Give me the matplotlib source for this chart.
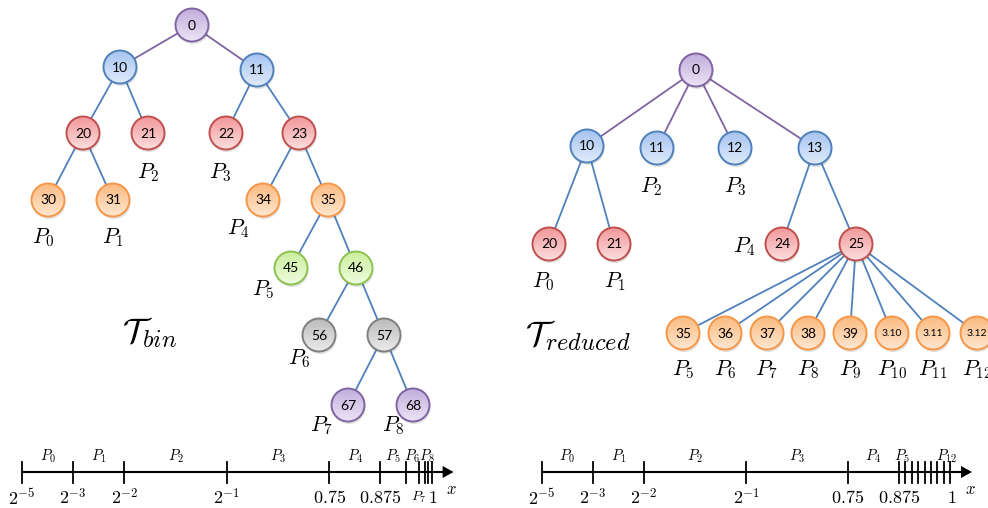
import numpy as np
import matplotlib
matplotlib.use('Agg')
import matplotlib.pyplot as plt
from matplotlib.patches import Circle
from matplotlib.colors import to_rgb

plt.rcParams['mathtext.fontset'] = 'cm'

# ---- left tree (binary) ----
bin_nodes = ['0', '10', '11', '20', '21', '22', '23', '30', '31', '34', '35',
             '45', '46', '56', '57', '67', '68']
bin_parents = [None, '0', '0', '10', '10', '11', '11', '20', '20', '23', '23',
               '35', '35', '46', '46', '57', '57']
bin_kinds = ['purple', 'blue', 'blue', 'red', 'red', 'red', 'red', 'orange',
             'orange', 'orange', 'orange', 'green', 'green', 'grey', 'grey',
             'purple', 'purple']
bin_leaves = ['30', '31', '21', '22', '34', '45', '56', '67', '68']

# ---- right tree (reduced) ----
red_nodes = ['0', '10', '11', '12', '13', '20', '21', '24', '25', '35', '36',
             '37', '38', '39', '3.10', '3.11', '3.12']
red_parents = [None, '0', '0', '0', '0', '10', '10', '13', '13', '25', '25',
               '25', '25', '25', '25', '25', '25']
red_kinds = ['purple', 'blue', 'blue', 'blue', 'blue', 'red', 'red', 'red',
             'red', 'orange', 'orange', 'orange', 'orange', 'orange', 'orange',
             'orange', 'orange']
red_leaves = ['20', '21', '11', '12', '24', '35', '36', '37', '38', '39',
              '3.10', '3.11', '3.12']

# ---- number lines ----
bin_bounds = [2**-5, 2**-3, 2**-2, 0.5, 0.75, 0.875, 0.9375, 0.96875,
              0.984375, 0.9921875, 1.0]
red_bounds = [2**-5, 2**-3, 2**-2, 0.5, 0.75] + [0.875 + k / 64 for k in range(9)]
tick_values = [2**-5, 2**-3, 2**-2, 0.5, 0.75, 0.875, 1.0]
tick_texts = [r'$2^{-5}$', r'$2^{-3}$', r'$2^{-2}$', r'$2^{-1}$', r'$0.75$',
              r'$0.875$', r'$1$']

# layout (pixel coordinates)
bin_pos = {'0': (192, 25), '10': (120, 67), '11': (257, 70),
           '20': (83, 133), '21': (148, 133), '22': (226, 133), '23': (299, 133),
           '30': (48, 200), '31': (113, 200), '34': (263, 200), '35': (328, 200),
           '45': (291, 268), '46': (356, 268), '56': (319, 335), '57': (384, 335),
           '67': (348, 405), '68': (413, 405)}
bin_lab = [(43, 238), (113, 238), (148, 173), (220, 173), (238, 229),
           (263, 290), (299, 359), (322, 426), (393, 426)]
red_pos = {'0': (696, 70), '10': (587, 146), '11': (657, 148), '12': (735, 148),
           '13': (815, 148), '20': (549, 244), '21': (614, 244), '24': (782, 244),
           '25': (856, 244)}
for i, n in enumerate(red_nodes[9:]):
    red_pos[n] = ([683, 725, 767, 808, 850, 892, 933, 977][i], 333)
red_lab = [(543, 282), (615, 282), (651, 187), (735, 187), (744, 247)] + \
          [(x, 370) for x in [683, 725, 767, 808, 850, 892, 933, 977]]

palette = {
    'purple': ('#8064a2', '#c1addc', '#ebe3f5'),
    'blue': ('#4f81bd', '#a5c3ef', '#dfeafb'),
    'red': ('#c0504d', '#f1979a', '#fcdcdd'),
    'orange': ('#f79646', '#fbba80', '#fee6cf'),
    'green': ('#8cc152', '#cbef9c', '#eefbdd'),
    'grey': ('#7f7f7f', '#bababa', '#eaeaea'),
}

R = 16.5

fig = plt.figure(figsize=(9.88, 5.08), dpi=100)
ax = fig.add_axes([0, 0, 1, 1])
ax.set_xlim(0, 988)
ax.set_ylim(508, 0)
ax.axis('off')


def draw_node(x, y, name, kind):
    edge, top, bottom = palette[kind]
    shadow = Circle((x + 1, y + 2.5), R, color='#000000', alpha=0.12, lw=0, zorder=3)
    ax.add_patch(shadow)
    c = Circle((x, y), R, facecolor='none', edgecolor=edge, lw=1.4, zorder=5)
    ax.add_patch(c)
    t = np.linspace(0, 1, 40)[:, None, None]
    grad = (1 - t) * np.array(to_rgb(top)) + t * np.array(to_rgb(bottom))
    grad = np.repeat(grad, 2, axis=1)
    im = ax.imshow(grad, extent=(x - R, x + R, y + R, y - R), origin='upper',
                   zorder=4, interpolation='bilinear', aspect='auto')
    im.set_clip_path(Circle((x, y), R, transform=ax.transData))
    fs = 7.5 if '.' in name else 10
    ax.text(x, y + 0.5, name, ha='center', va='center', fontsize=fs,
            family='Lato', color='black', zorder=6)


def draw_tree(nodes, parents, kinds, pos, leaves, labpos):
    for n, p in zip(nodes, parents):
        if p is None:
            continue
        col = '#8064a2' if p == '0' else '#4f81bd'
        ax.plot([pos[p][0], pos[n][0]], [pos[p][1], pos[n][1]], color=col,
                lw=1.3, zorder=2)
    for n, k in zip(nodes, kinds):
        draw_node(pos[n][0], pos[n][1], n, k)
    for i, (lx, ly) in enumerate(labpos):
        ax.text(lx, ly, r'$P_{%d}$' % i, ha='center', va='center', fontsize=15.5,
                zorder=6)


draw_tree(bin_nodes, bin_parents, bin_kinds, bin_pos, bin_leaves, bin_lab)
draw_tree(red_nodes, red_parents, red_kinds, red_pos, red_leaves, red_lab)

ax.text(150, 333, r'$\mathcal{T}_{bin}$', ha='center', va='center', fontsize=25)
ax.text(578, 336, r'$\mathcal{T}_{reduced}$', ha='center', va='center', fontsize=25)


def axis_pos(v, x0, unit):
    # piecewise scale used by the drawing: 2^-5, 2^-3, 2^-2 equally spaced,
    # linear from 1/4 to 1
    if v <= 2**-3:
        p = (v - 2**-5) / (2**-3 - 2**-5)
    elif v <= 2**-2:
        p = 1 + (v - 2**-3) / (2**-2 - 2**-3)
    else:
        p = 2 + (v - 0.25) * 8
    return x0 + p * unit


def draw_line(bounds, x0, unit, shown, below):
    y = 472
    xs = [axis_pos(b, x0, unit) for b in bounds]
    tip = xs[-1] + 22
    ax.plot([xs[0], tip - 8], [y, y], color='black', lw=1.5, zorder=2)
    ax.fill([tip - 11, tip, tip - 11], [y - 6, y, y + 6], color='black', lw=0)
    for x in xs:
        ax.plot([x, x], [y - 10.5, y + 10.5], color='black', lw=1.3)
    for v, s in zip(tick_values, tick_texts):
        ax.text(axis_pos(v, x0, unit) + (1.5 if v == 1.0 else 0), 498, s,
                ha='center', va='center', fontsize=13)
    for i in range(len(bounds) - 1):
        if i not in shown:
            continue
        cx = (xs[i] + xs[i + 1]) / 2
        if i in below:
            ax.text(cx - 3, 497, r'$P_{%d}$' % i, ha='center', va='center',
                    fontsize=10)
        else:
            ax.text(cx, 456, r'$P_{%d}$' % i, ha='center', va='center',
                    fontsize=10.5)
    ax.text(tip - 2, 489, r'$x$', ha='center', va='center', fontsize=12)


draw_line(bin_bounds, 22, 51.2, shown=range(9), below=[7])
draw_line(red_bounds, 542, 51.0, shown=[0, 1, 2, 3, 4, 5, 12], below=[])

fig.savefig('out.png', dpi=100)
